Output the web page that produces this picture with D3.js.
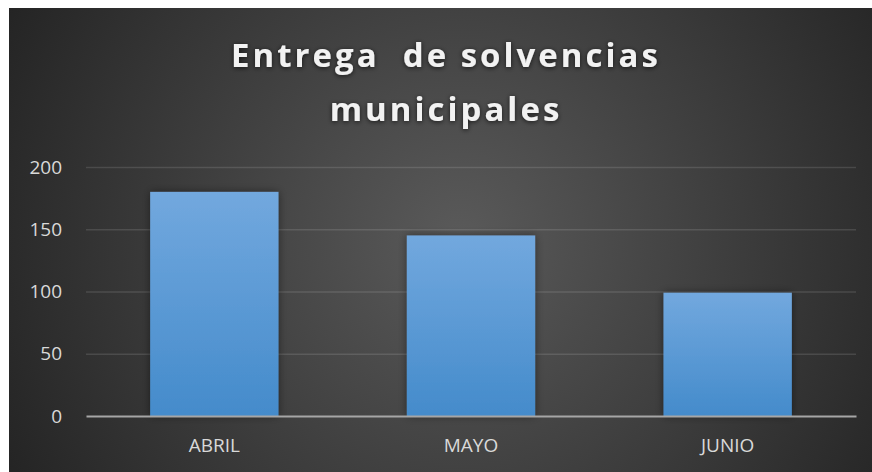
<!DOCTYPE html>
<html>
<head>
<meta charset="utf-8">
<script src="https://cdn.jsdelivr.net/npm/d3@7"></script>
<style>
  html, body { margin: 0; padding: 0; background: #ffffff; }
  svg { display: block; }
</style>
</head>
<body>
<svg id="chart" width="872" height="472"></svg>
<script>
// Data
const categories = ["ABRIL", "MAYO", "JUNIO"];
const values = [180, 145, 99];
const yTicks = [0, 50, 100, 150, 200];
const titleLines = ["Entrega  de solvencias", "municipales"];

const W = 872, H = 472;
const frame = { x: 9, y: 8 };
const plot = { left: 86, right: 856, top: 167, bottom: 416 };

const svg = d3.select("#chart");
const defs = svg.append("defs");

// Background radial gradient
const bg = defs.append("radialGradient")
  .attr("id", "bgGrad")
  .attr("gradientUnits", "userSpaceOnUse")
  .attr("cx", 460).attr("cy", 240).attr("r", 520);
bg.append("stop").attr("offset", "0%").attr("stop-color", "#5a5a5a");
bg.append("stop").attr("offset", "100%").attr("stop-color", "#232323");

// Bar gradient
const barGrad = defs.append("linearGradient")
  .attr("id", "barGrad").attr("x1", 0).attr("y1", 0).attr("x2", 0).attr("y2", 1);
barGrad.append("stop").attr("offset", "0%").attr("stop-color", "#72a8de");
barGrad.append("stop").attr("offset", "100%").attr("stop-color", "#448bcb");

// Bar shadow
const shadow = defs.append("filter").attr("id", "barShadow")
  .attr("x", "-20%").attr("y", "-20%").attr("width", "140%").attr("height", "140%");
shadow.append("feDropShadow")
  .attr("dx", 0).attr("dy", 0).attr("stdDeviation", 4)
  .attr("flood-color", "#000").attr("flood-opacity", 0.45);

// Title glow
const glow = defs.append("filter").attr("id", "titleGlow")
  .attr("x", "-10%").attr("y", "-30%").attr("width", "120%").attr("height", "160%");
glow.append("feDropShadow")
  .attr("dx", 0).attr("dy", 1).attr("stdDeviation", 2.5)
  .attr("flood-color", "#000").attr("flood-opacity", 0.7);

svg.append("rect")
  .attr("x", frame.x).attr("y", frame.y)
  .attr("width", W - frame.x).attr("height", H - frame.y)
  .attr("fill", "url(#bgGrad)");

// Scales
const x = d3.scaleBand()
  .domain(categories)
  .range([plot.left, plot.right])
  .paddingInner(0.5)
  .paddingOuter(0.25);

const y = d3.scaleLinear()
  .domain([0, 200])
  .range([plot.bottom, plot.top]);

const labelFont = "'Open Sans', 'DejaVu Sans', sans-serif";

// Gridlines and value axis
const yAxis = d3.axisLeft(y)
  .tickValues(yTicks)
  .tickSize(-(plot.right - plot.left))
  .tickPadding(24)
  .tickFormat(d3.format("d"));

const gy = svg.append("g")
  .attr("transform", `translate(${plot.left},0)`)
  .call(yAxis);
gy.select(".domain").remove();
gy.selectAll(".tick line")
  .attr("stroke", "rgba(255,255,255,0.12)")
  .attr("stroke-width", 1.5)
  .attr("display", d => d === 0 ? "none" : null);
gy.selectAll(".tick text")
  .attr("fill", "#d9d9d9")
  .attr("font-family", labelFont)
  .attr("font-size", 19);

// Bars
svg.append("g")
  .selectAll("rect")
  .data(values)
  .join("rect")
  .attr("x", (d, i) => x(categories[i]))
  .attr("y", d => y(d))
  .attr("width", x.bandwidth())
  .attr("height", d => y(0) - y(d))
  .attr("fill", "url(#barGrad)")
  .attr("filter", "url(#barShadow)");

// Category axis
const xAxis = d3.axisBottom(x).tickSize(0).tickPadding(23);
const gx = svg.append("g")
  .attr("transform", `translate(0,${plot.bottom})`)
  .call(xAxis);
gx.select(".domain")
  .attr("stroke", "#a6a6a6")
  .attr("stroke-width", 2);
gx.selectAll(".tick text")
  .attr("fill", "#d9d9d9")
  .attr("font-family", labelFont)
  .attr("font-size", 19);

// Title
const title = svg.append("text")
  .attr("text-anchor", "middle")
  .attr("fill", "#f2f2f2")
  .attr("font-family", labelFont)
  .attr("font-weight", "bold")
  .attr("font-size", 33)
  .attr("letter-spacing", 3)
  .attr("filter", "url(#titleGlow)");
title.selectAll("tspan")
  .data(titleLines)
  .join("tspan")
  .attr("x", 446)
  .attr("y", (d, i) => 67 + i * 54)
  .attr("xml:space", "preserve")
  .style("white-space", "pre")
  .text(d => d);
</script>
</body>
</html>
